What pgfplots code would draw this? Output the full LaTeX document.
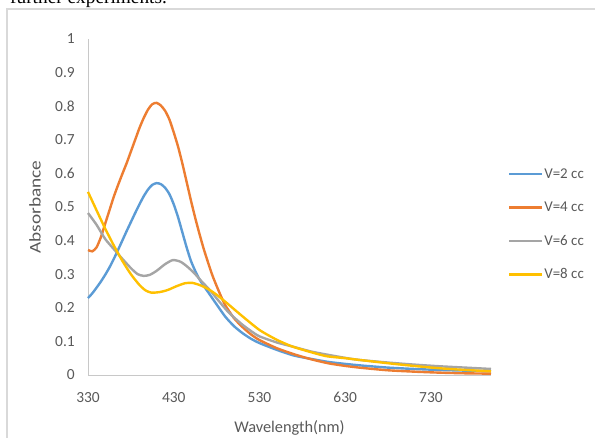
\documentclass[border=0pt]{standalone}
\usepackage{fontspec}
\setmainfont{Carlito}
\newfontfamily\timesfont{Liberation Serif}
\usepackage{pgfplots}
\pgfplotsset{compat=1.18}

\definecolor{sblue}{HTML}{5B9BD5}
\definecolor{sorange}{HTML}{ED7D31}
\definecolor{sgray}{HTML}{A5A5A5}
\definecolor{syellow}{HTML}{FFC000}
\definecolor{ticktext}{HTML}{595959}
\definecolor{axisgray}{HTML}{C8C8C8}
\definecolor{framegray}{HTML}{D9D9D9}

\begin{document}
\begin{tikzpicture}
\useasboundingbox (0,0) rectangle (595bp,438bp);
% cropped page text and frame
\node[anchor=base west, inner sep=0, font=\timesfont\fontsize{19.4}{22}\selectfont] at (10bp,434.5bp) {further experiments.};
\draw[framegray, line width=1.3bp] (7bp,0) -- (7bp,429bp) -- (600bp,429bp);

\begin{axis}[
    at={(88bp,63bp)}, anchor=south west,
    scale only axis,
    width=403bp, height=336bp,
    xmin=330, xmax=800, ymin=0, ymax=1,
    enlargelimits=false,
    axis x line=bottom, axis y line=left,
    axis line style={axisgray, line width=1bp, -},
    xtick={330,430,530,630,730},
    ytick={0,0.1,...,1},
    yticklabels={0,0.1,0.2,0.3,0.4,0.5,0.6,0.7,0.8,0.9,1},
    major tick length=0pt,
    /pgf/number format/assume math mode=true,
    tick label style={font=\fontsize{15.5}{18}\selectfont, color=ticktext},
    y tick label style={anchor=east, inner sep=0pt, xshift=-13bp},
    x tick label style={anchor=north, inner sep=0pt, yshift=-17bp},
    xlabel={Wavelength(nm)}, ylabel={\scalebox{1.18}[1]{Absorbance}},
    label style={font=\fontsize{16.4}{19}\selectfont, color=ticktext},
    xlabel style={at={(axis description cs:0.5,-0.158)}, anchor=center},
    ylabel style={at={(axis description cs:-0.1315,0.5)}, anchor=center},
    legend style={at={(1.042,0.448)}, anchor=west, draw=none, fill=none,
        inner sep=0pt, outer sep=0pt, row sep=20bp,
        font=\fontsize{15}{18}\selectfont, text=ticktext,
        nodes={inner sep=1bp}},
    legend cell align=left,
    legend image code/.code={\draw[#1] (0bp,0bp) -- (33bp,0bp);},
    every axis plot/.append style={line width=2.4bp, smooth, tension=0.4},
    clip=false,
]
\addplot[sblue] coordinates {
(330,0.229) (335,0.243) (340,0.260) (345,0.278) (350,0.298) (355,0.320)
(360,0.345) (365,0.372) (370,0.400) (375,0.428) (380,0.455) (385,0.482)
(390,0.508) (395,0.532) (400,0.552) (405,0.566) (410,0.571) (415,0.568)
(420,0.557) (425,0.538) (430,0.508) (435,0.470) (440,0.425) (445,0.380)
(450,0.340) (455,0.310) (460,0.285) (465,0.265) (470,0.247) (480,0.210)
(490,0.174) (500,0.146) (510,0.125) (520,0.108) (530,0.095) (550,0.075)
(570,0.058) (590,0.048) (610,0.039) (630,0.033) (650,0.028) (680,0.022)
(710,0.018) (740,0.015) (770,0.013) (800,0.011)
};
\addplot[sorange] coordinates {
(330,0.372) (335,0.368) (340,0.380) (345,0.410) (350,0.450) (355,0.490)
(360,0.530) (365,0.565) (370,0.598) (375,0.630) (380,0.665) (385,0.700)
(390,0.735) (395,0.765) (400,0.790) (405,0.806) (410,0.810) (415,0.802)
(420,0.786) (425,0.760) (430,0.722) (435,0.680) (440,0.630) (445,0.575)
(450,0.520) (455,0.468) (460,0.420) (465,0.375) (470,0.335) (475,0.297)
(480,0.265) (485,0.235) (490,0.208) (500,0.170) (510,0.143) (520,0.121)
(530,0.104) (550,0.080) (570,0.062) (590,0.047) (610,0.035) (630,0.027)
(650,0.021) (680,0.014) (710,0.010) (740,0.007) (770,0.005) (800,0.004)
};
\addplot[sgray] coordinates {
(330,0.482) (340,0.447) (350,0.405) (360,0.375) (370,0.346) (380,0.318)
(388,0.300) (395,0.295) (402,0.298) (410,0.310) (420,0.330) (429,0.342)
(438,0.337) (446,0.322) (454,0.303) (462,0.280) (472,0.253) (482,0.222)
(492,0.192) (500,0.172) (510,0.150) (520,0.131) (530,0.115) (550,0.097)
(568,0.085) (590,0.070) (608,0.061) (630,0.051) (646,0.045) (680,0.037)
(710,0.031) (740,0.026) (770,0.022) (800,0.018)
};
\addplot[syellow] coordinates {
(330,0.545) (340,0.490) (350,0.436) (360,0.386) (370,0.340) (380,0.300)
(390,0.268) (397,0.252) (404,0.245) (414,0.247) (423,0.253) (433,0.264)
(443,0.273) (452,0.274) (462,0.266) (472,0.253) (482,0.235) (492,0.214)
(510,0.175) (530,0.134) (550,0.105) (568,0.085) (590,0.068) (608,0.056)
(630,0.050) (646,0.045) (680,0.035) (710,0.027) (740,0.020) (770,0.015)
(800,0.011)
};
\legend{V=2 cc, V=4 cc, V=6 cc, V=8 cc}
\end{axis}
\end{tikzpicture}
\end{document}
